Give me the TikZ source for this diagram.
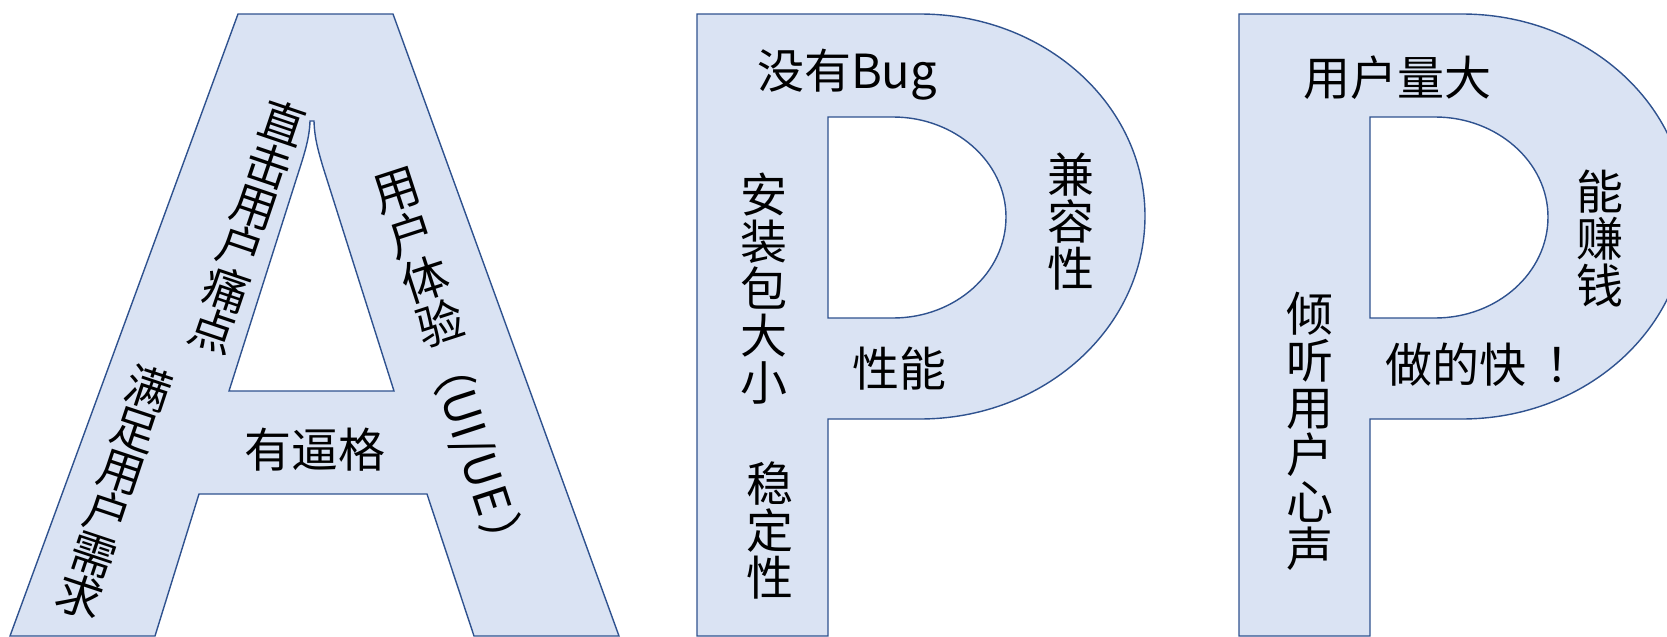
\documentclass[tikz,border=0pt]{standalone}
\usepackage{fontspec}
\newfontfamily\cjk{Noto Sans CJK SC}
\definecolor{shapefill}{HTML}{DAE3F3}
\definecolor{shapeline}{HTML}{2F528F}
\begin{document}
\begin{tikzpicture}[x=0.5pt,y=-0.5pt,
  letter/.style={fill=shapefill,draw=shapeline,line width=0.7pt,even odd rule,line join=miter},
  lbl/.style={font=\cjk\fontsize{23.5}{23.5}\selectfont,inner sep=0pt,align=center,text=black},
  colA/.style={font=\cjk\fontsize{23}{21.9}\selectfont,inner sep=0pt,align=center,text=black}]
\useasboundingbox (0,0) rectangle (1667,637);
\clip (0,0) rectangle (1667,637);
% letter A
\path[letter] (238,14) -- (393,14) -- (619,636) -- (474,636) -- (427,494) -- (199,494) -- (155,636) -- (10,636) -- cycle
  (229,391) -- (394,391) -- (323,167) .. controls (318,150) and (314.5,138) .. (314,121) -- (310,121)
  .. controls (309.5,140) and (303,158) .. (296,180) -- cycle;
% first P
\path[letter] (697,14) -- (920,14) .. controls (1044,14) and (1145,104) .. (1145,216) .. controls (1145,328) and (1044,419) .. (920,419) -- (828,419) -- (828,636) -- (697,636) -- cycle
  (828,117) -- (893,117) .. controls (955,117) and (1006,162) .. (1006,217) .. controls (1006,273) and (955,318) .. (893,318) -- (828,318) -- cycle;
% second P
\begin{scope}[shift={(542,0)}]
\path[letter] (697,14) -- (920,14) .. controls (1044,14) and (1145,104) .. (1145,216) .. controls (1145,328) and (1044,419) .. (920,419) -- (828,419) -- (828,636) -- (697,636) -- cycle
  (828,117) -- (893,117) .. controls (955,117) and (1006,162) .. (1006,217) .. controls (1006,273) and (955,318) .. (893,318) -- (828,318) -- cycle;
\end{scope}
% texts of A
\node[colA,rotate=-18.7] (ahit) at (248,227) {直\\击\\用\\户\\痛\\点};
\node[colA,rotate=-18.4] (aneed) at (114.5,492) {满\\足\\用\\户\\需\\求};
\node[lbl,rotate=18] (aux) at (419,258) {用\\户\\体\\验};
\node[lbl,rotate=-72] (auxe) at (476,455) {（UI/UE\hspace{0.1em}）};
\node[lbl] (acool) at (315,450) {有逼格};
% texts of first P
\node[lbl] (pbug) at (847,75) {没有Bug};
\node[lbl] (psize) at (764,289) {安\\装\\包\\大\\小};
\node[lbl] (pstab) at (770,530) {稳\\定\\性};
\node[lbl] (pperf) at (899,369) {性能};
\node[lbl] (pcomp) at (1071,222) {兼\\容\\性};
% texts of second P
\node[lbl] (qusers) at (1397,78) {用户量大};
\node[lbl] (qmoney) at (1600,238) {能\\赚\\钱};
\node[lbl] (qlisten) at (1310,431) {倾\\听\\用\\户\\心\\声};
\node[lbl,anchor=west] (qfast) at (1385,365) {做的快\hspace{0.4em}！};
\end{tikzpicture}
\end{document}
